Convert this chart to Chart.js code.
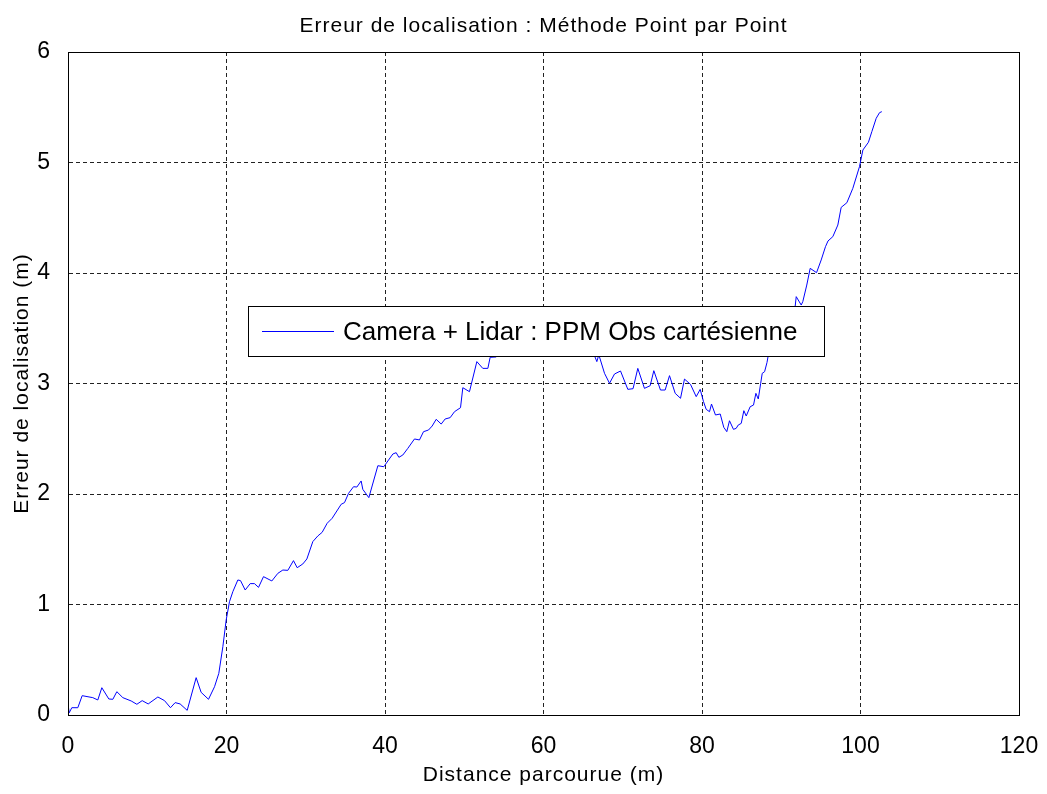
<!DOCTYPE html>
<html>
<head>
<meta charset="utf-8">
<title>Erreur de localisation</title>
<script src="https://cdn.jsdelivr.net/npm/chart.js@4"></script>
<style>
  html, body { margin: 0; padding: 0; background: #fff; }
  #wrap { width: 1047px; height: 794px; }
</style>
</head>
<body>
<div id="wrap"><canvas id="chart"></canvas></div>
<script>
// distance parcourue (m)
const distance = [
  0, 0.15, 0.48, 1.24, 1.79, 3.13, 3.76, 4.27, 5.15, 5.66, 6.16, 6.92, 7.97, 8.69, 9.36,
  10.12, 11.34, 12.18, 12.93, 13.52, 14.15, 15.04, 16.17, 16.8, 17.73, 18.49, 19.03, 19.54,
  19.96, 20.38, 20.8, 21.43, 21.77, 22.36, 22.99, 23.53, 24.04, 24.67, 25.72, 26.48, 27.11,
  27.74, 28.45, 28.92, 29.63, 30.14, 30.89, 31.52, 32.07, 32.7, 33.33, 34.47, 34.89, 35.4,
  36.03, 36.45, 36.99, 37.2, 37.96, 39.1, 39.85, 40.99, 41.41, 41.75, 42.25, 42.88, 43.72,
  44.35, 44.86, 45.49, 45.95, 46.46, 47.09, 47.59, 48.22, 48.77, 49.53, 49.82, 50.66, 51.59,
  52.34, 52.98, 53.27, 54.03, 54.8, 55.6, 56.4, 57.2, 58.0, 58.8, 59.6, 60.4, 61.2, 62.0,
  62.8, 63.6, 64.4, 65.2, 66.0, 66.5, 66.73, 66.98, 67.7, 68.33, 68.96, 69.72, 70.64, 71.3,
  71.9, 72.74, 73.46, 73.92, 74.76, 75.35, 75.9, 76.62, 77.29, 77.79, 78.55, 79.27, 79.77,
  80.19, 80.53, 80.95, 81.2, 81.7, 82.3, 82.75, 83.13, 83.47, 83.97, 84.31, 84.57, 84.95,
  85.28, 85.58, 86.08, 86.5, 86.8, 87.1, 87.4, 87.6, 87.9, 88.2, 88.4, 89.0, 89.6, 90.2,
  90.8, 91.4, 91.76, 91.89, 92.52, 92.72, 93.22, 93.65, 94.45, 95.04, 95.58, 95.9, 96.51,
  97.14, 97.56, 98.28, 99.03, 99.87, 100.3, 101.0, 101.43, 101.98, 102.4, 102.69
];

// erreur de localisation (m)
const erreur = [
  0.10, 0.02, 0.066, 0.066, 0.175, 0.157, 0.136, 0.247, 0.145, 0.142, 0.211, 0.157, 0.127,
  0.097, 0.13, 0.10, 0.163, 0.13, 0.066, 0.112, 0.10, 0.042, 0.338, 0.205, 0.142, 0.256,
  0.377, 0.618, 0.86, 1.026, 1.116, 1.222, 1.216, 1.131, 1.189, 1.189, 1.155, 1.252, 1.213,
  1.282, 1.312, 1.309, 1.397, 1.333, 1.367, 1.412, 1.569, 1.62, 1.653, 1.735, 1.78, 1.907,
  1.922, 2.006, 2.066, 2.063, 2.118, 2.042, 1.967, 2.256, 2.247, 2.362, 2.374, 2.332, 2.353,
  2.413, 2.498, 2.489, 2.564, 2.579, 2.615, 2.676, 2.633, 2.679, 2.691, 2.745, 2.781, 2.962,
  2.926, 3.198, 3.137, 3.137, 3.237, 3.24, 3.30, 3.36, 3.33, 3.42, 3.46, 3.44, 3.50, 3.48,
  3.52, 3.46, 3.43, 3.47, 3.40, 3.36, 3.30, 3.24, 3.198, 3.26, 3.092, 3.002, 3.086, 3.113,
  2.947, 2.953, 3.137, 2.956, 2.98, 3.116, 2.941, 2.941, 3.071, 2.911, 2.866, 3.04, 2.992,
  2.881, 2.947, 2.836, 2.766, 2.745, 2.814, 2.715, 2.724, 2.603, 2.564, 2.663, 2.585, 2.594,
  2.624, 2.639, 2.754, 2.706, 2.79, 2.805, 2.911, 2.86, 3.0, 3.092, 3.107, 3.19, 3.27, 3.36,
  3.44, 3.50, 3.58, 3.66, 3.701, 3.786, 3.71, 3.741, 3.891, 4.042, 4.003, 4.118, 4.238, 4.29,
  4.329, 4.434, 4.594, 4.636, 4.766, 4.962, 5.113, 5.183, 5.279, 5.40, 5.451, 5.46
];

const seriesLabel = 'Camera + Lidar : PPM Obs cartésienne';
const chartTitle = 'Erreur de localisation : Méthode Point par Point';
const xTitle = 'Distance parcourue (m)';
const yTitle = 'Erreur de localisation (m)';
const lineColor = '#0000ff';
const fontFamily = '"Liberation Sans", Arial, sans-serif';

// boxed legend drawn inside the plot, on top of the curve
const legendBox = {
  id: 'legendBox',
  afterDatasetsDraw(chart) {
    const { ctx, chartArea } = chart;
    const x = chartArea.left + 180;
    const y = chartArea.top + 254;
    const w = 576, h = 50;
    ctx.save();
    ctx.fillStyle = '#fff';
    ctx.fillRect(x, y, w, h);
    ctx.strokeStyle = '#000';
    ctx.lineWidth = 1;
    ctx.strokeRect(x + 0.5, y + 0.5, w, h);
    ctx.strokeStyle = lineColor;
    ctx.beginPath();
    ctx.moveTo(x + 14, y + 25.5);
    ctx.lineTo(x + 86, y + 25.5);
    ctx.stroke();
    ctx.fillStyle = '#000';
    ctx.font = '26px ' + fontFamily;
    ctx.textBaseline = 'middle';
    ctx.fillText(seriesLabel, x + 95, y + 27);
    ctx.restore();
  }
};

// solid frame around the plot area
const frame = {
  id: 'frame',
  afterDatasetsDraw(chart) {
    const { ctx, chartArea: a } = chart;
    ctx.save();
    ctx.strokeStyle = '#000';
    ctx.lineWidth = 1;
    ctx.strokeRect(a.left + 0.5, a.top + 0.5, a.right - a.left, a.bottom - a.top);
    ctx.restore();
  }
};

// main title and axis titles, slightly letter-spaced
const titles = {
  id: 'titles',
  afterDraw(chart) {
    const { ctx, chartArea: a, height } = chart;
    const cx = (a.left + a.right) / 2;
    ctx.save();
    ctx.fillStyle = '#000';
    ctx.font = '21px ' + fontFamily;
    ctx.letterSpacing = '1px';
    ctx.textAlign = 'center';
    ctx.textBaseline = 'middle';
    ctx.fillText(chartTitle, cx, 26);
    ctx.fillText(xTitle, cx, height - 19);
    ctx.translate(22, (a.top + a.bottom) / 2);
    ctx.rotate(-Math.PI / 2);
    ctx.fillText(yTitle, 0, 0);
    ctx.restore();
  }
};

const noEdgePadding = (scale) => {
  scale.paddingLeft = 0;
  scale.paddingRight = 0;
  scale.paddingTop = 0;
  scale.paddingBottom = 0;
};

new Chart(document.getElementById('chart').getContext('2d'), {
  type: 'line',
  data: {
    datasets: [
      {
        label: seriesLabel,
        data: distance.map((d, i) => ({ x: d, y: erreur[i] })),
        borderColor: lineColor,
        borderWidth: 1,
        pointRadius: 0,
        tension: 0,
        fill: false,
      },
    ],
  },
  options: {
    responsive: true,
    maintainAspectRatio: false,
    animation: false,
    layout: { padding: { top: 52, right: 28, bottom: 0, left: 0 } },
    plugins: {
      legend: { display: false },
      tooltip: { enabled: false },
    },
    scales: {
      x: {
        type: 'linear',
        min: 0,
        max: 120,
        ticks: { stepSize: 20, color: '#000', padding: 18, font: { family: fontFamily, size: 23 } },
        grid: { color: '#222', lineWidth: 1, drawTicks: false },
        border: { display: true, color: '#000', width: 1, dash: [4, 3] },
        afterFit: (scale) => { scale.height = 79; noEdgePadding(scale); },
      },
      y: {
        min: 0,
        max: 6,
        ticks: { stepSize: 1, color: '#000', padding: 18, font: { family: fontFamily, size: 23 } },
        grid: { color: '#222', lineWidth: 1, drawTicks: false },
        border: { display: true, color: '#000', width: 1, dash: [4, 3] },
        afterFit: (scale) => { scale.width = 68; noEdgePadding(scale); },
      },
    },
  },
  plugins: [legendBox, frame, titles],
});
</script>
</body>
</html>
